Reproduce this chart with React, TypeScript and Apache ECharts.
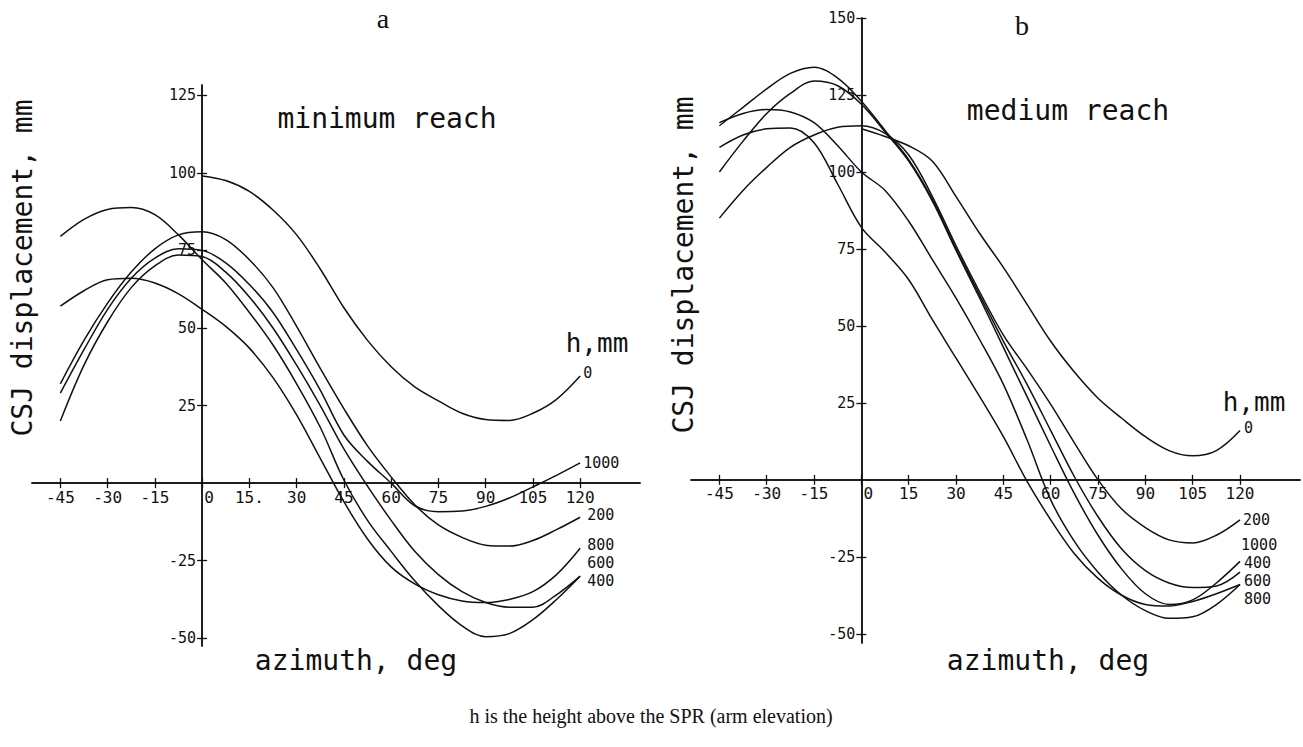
import React, { useEffect, useRef } from "react";
import * as echarts from "echarts";

// ---------- data ----------
const X_FULL = [-45, -37.5, -30, -22.5, -15, -7.5, 0, 7.5, 15, 22.5, 30, 37.5, 45, 52.5, 60, 67.5, 75, 82.5, 90, 97.5, 105, 112.5, 120];
const X_RIGHT = [0, 7.5, 15, 22.5, 30, 37.5, 45, 52.5, 60, 67.5, 75, 82.5, 90, 97.5, 105, 112.5, 120];
const X_TICKS = [-45, -30, -15, 0, 15, 30, 45, 60, 75, 90, 105, 120];
const Y_TICKS_A = [-50, -25, 25, 50, 75, 100, 125];
const Y_TICKS_B = [-50, -25, 25, 50, 75, 100, 125, 150];

// panel a: minimum reach (h, mm)
const A_H0 = [99, 97.5, 94, 88, 80, 69, 56.5, 46, 37.5, 31, 26.5, 22.5, 20.5, 20.2, 22.5, 27, 34.5];
const A_H200 = [32, 46, 58, 68, 75.5, 80, 81, 78.5, 72, 63, 50.5, 37, 24, 12, 2, -7, -13.5, -17.5, -20, -20.3, -18.5, -15, -11];
const A_H400 = [20, 38, 52, 63, 70, 73.5, 73, 68, 60, 50, 38, 25, 11, -1, -12, -22, -29.5, -35, -38.5, -40, -40, -36, -30];
const A_H600 = [79.5, 85, 88.2, 88.8, 86.5, 80, 72, 64.5, 55, 44.5, 32, 18, 1, -12, -22, -31.5, -39.5, -46, -49.5, -48.5, -44, -37.5, -30];
const A_H800 = [57, 62, 65.5, 66, 64.5, 61, 56, 50.5, 43.5, 34, 22, 8, -6, -18, -27, -32.5, -36, -38, -38.5, -37.5, -35, -29.5, -21];
const A_H1000 = [29, 43, 56, 66, 72.5, 75.5, 75, 71, 64, 55, 43, 30, 15.5, 7, 0, -7.3, -9.2, -9, -7.5, -4.8, -1.2, 2.5, 6.5];

// panel b: medium reach (h, mm)
const B_H0 = [114, 111.5, 108.5, 103.5, 92, 80, 69, 57, 45, 35, 26.5, 20, 14, 9.5, 7.8, 9.5, 16];
const B_H200 = [85, 94, 101.5, 108, 112, 114.5, 115, 112.5, 105.5, 92, 76, 61, 47, 36, 24.5, 12, 0, -9.5, -15.5, -19.5, -20.5, -18, -13];
const B_H400 = [100, 110, 119, 125.5, 129.5, 128, 122, 113, 103.5, 90.5, 74.5, 59, 43, 27, 11, -4.5, -18, -29, -37, -40.5, -39, -33.5, -26.5];
const B_H600 = [108, 112, 114, 114.3, 109.5, 96, 82, 74, 65, 52, 39.5, 27, 14, -0.5, -13, -24, -32, -37.5, -40.5, -41, -39.5, -37, -34];
const B_H800 = [116, 119, 120.3, 119.5, 116, 108.5, 100, 94, 84, 71.5, 59, 45.5, 31, 13, -6.5, -20, -30, -37.5, -42.5, -45, -44.5, -40.5, -34];
const B_H1000 = [115, 121, 127, 132, 134, 130.5, 123, 113.5, 104, 91, 75, 60, 45, 31, 16, 1, -12, -22.5, -29.5, -33.5, -35, -34.5, -30];

const MONO = '"DejaVu Sans Mono", monospace';
const SERIF = '"Liberation Serif", "Times New Roman", serif';
const INK = "#111";

const X_MIN = -54;
const X_MAX = 139;
const GRIDS = [
  { left: 32, top: 85, width: 608, height: 561, yMin: -52.5, yMax: 128.3 },
  { left: 691, top: 18, width: 609, height: 625, yMin: -53, yMax: 150 },
];

function line(label: string, xs: number[], ys: number[], grid: number, offset: number[]) {
  return {
    type: "line",
    name: "h=" + label + " (" + (grid === 0 ? "a" : "b") + ")",
    xAxisIndex: grid * 2,
    yAxisIndex: grid * 2,
    data: xs.map((x, i) => [x, ys[i]]),
    smooth: 0.35,
    symbol: "none",
    showSymbol: false,
    silent: true,
    lineStyle: { color: INK, width: 1.5 },
    endLabel: {
      show: true,
      formatter: () => label,
      distance: 0,
      offset,
      fontFamily: MONO,
      fontSize: 15,
      lineHeight: 15,
      color: INK,
      align: "left",
      verticalAlign: "middle",
    },
  };
}

function xAxes(grid: number, panelA: boolean) {
  const g = GRIDS[grid];
  // move the horizontal axis up to y = 0
  const off = -((0 - g.yMin) / (g.yMax - g.yMin)) * g.height;
  const base = {
    gridIndex: grid,
    type: "value",
    min: X_MIN,
    max: X_MAX,
    position: "bottom",
    offset: off,
    splitLine: { show: false },
    axisLine: { show: true, onZero: false, lineStyle: { color: INK, width: 1.5 } },
  };
  return [
    {
      ...base,
      axisTick: { show: true, customValues: X_TICKS, length: 5, lineStyle: { color: INK, width: 1.3 } },
      axisLabel: {
        show: true,
        customValues: X_TICKS,
        margin: 6,
        fontFamily: MONO,
        fontSize: 16,
        color: INK,
        formatter: (v: number) => (v === 0 ? "{z|0}" : panelA && v === 15 ? "15." : String(v)),
        rich: { z: { fontFamily: MONO, fontSize: 16, color: INK, padding: [0, 0, 0, 14] } },
      },
    },
    {
      ...base,
      axisTick: { show: true, inside: true, customValues: X_TICKS, length: 5, lineStyle: { color: INK, width: 1.3 } },
      axisLabel: { show: false },
    },
  ];
}

function yAxes(grid: number, ticks: number[]) {
  const g = GRIDS[grid];
  // move the vertical axis right to x = 0
  const off = -((0 - X_MIN) / (X_MAX - X_MIN)) * g.width;
  const base = {
    gridIndex: grid,
    type: "value",
    min: g.yMin,
    max: g.yMax,
    position: "left",
    offset: off,
    splitLine: { show: false },
    axisLine: { show: true, onZero: false, lineStyle: { color: INK, width: 1.5 } },
  };
  return [
    {
      ...base,
      axisTick: { show: true, customValues: ticks, length: 5, lineStyle: { color: INK, width: 1.3 } },
      axisLabel: { show: true, customValues: ticks, margin: 6, fontFamily: MONO, fontSize: 15, color: INK },
    },
    {
      ...base,
      axisTick: { show: true, inside: true, customValues: ticks, length: 5, lineStyle: { color: INK, width: 1.3 } },
      axisLabel: { show: false },
    },
  ];
}

function txt(text: string, x: number, y: number, size: number, family: string, extra: any = {}) {
  return {
    type: "text",
    x,
    y,
    silent: true,
    style: { text, fontSize: size, fontFamily: family, fill: INK, align: "center", verticalAlign: "middle", ...extra },
  };
}

export default function App() {
  const ref = useRef<HTMLDivElement>(null);
  useEffect(() => {
    if (!ref.current) return;
    const chart = echarts.init(ref.current, null, { renderer: "svg" });
    chart.setOption({
      animation: false,
      backgroundColor: "#ffffff",
      grid: GRIDS.map((g) => ({ left: g.left, top: g.top, width: g.width, height: g.height })),
      xAxis: [...xAxes(0, true), ...xAxes(1, false)],
      yAxis: [...yAxes(0, Y_TICKS_A), ...yAxes(1, Y_TICKS_B)],
      series: [
        line("0", X_RIGHT, A_H0, 0, [3, -3]),
        line("1000", X_FULL, A_H1000, 0, [3, 0]),
        line("200", X_FULL, A_H200, 0, [7, -2]),
        line("800", X_FULL, A_H800, 0, [7, -3]),
        line("600", X_FULL, A_H600, 0, [7, -13]),
        line("400", X_FULL, A_H400, 0, [7, 5]),
        line("0", X_RIGHT, B_H0, 1, [4, -3]),
        line("200", X_FULL, B_H200, 1, [3, 0]),
        line("1000", X_FULL, B_H1000, 1, [1, -27]),
        line("400", X_FULL, B_H400, 1, [4, 1.5]),
        line("600", X_FULL, B_H600, 1, [4, -3.5]),
        line("800", X_FULL, B_H800, 1, [4, 14.5]),
      ],
      graphic: [
        txt("a", 383, 18, 28, SERIF),
        txt("b", 1022, 25, 28, SERIF),
        txt("minimum reach", 387, 118, 28, MONO),
        txt("medium reach", 1068, 110, 28, MONO),
        txt("azimuth, deg", 356, 660, 28, MONO),
        txt("azimuth, deg", 1048, 660, 28, MONO),
        { ...txt("CSJ displacement, mm", 22, 268, 28, MONO), rotation: Math.PI / 2 },
        { ...txt("CSJ displacement, mm", 683, 265, 28, MONO), rotation: Math.PI / 2 },
        txt("h,mm", 597, 343, 26, MONO),
        txt("h,mm", 1254, 402, 26, MONO),
        txt("h is the height above the SPR (arm elevation)", 651, 716, 20, SERIF),
      ],
    });
    return () => chart.dispose();
  }, []);
  return <div ref={ref} style={{ position: "absolute", left: 0, top: 0, width: 1303, height: 747 }} />;
}
